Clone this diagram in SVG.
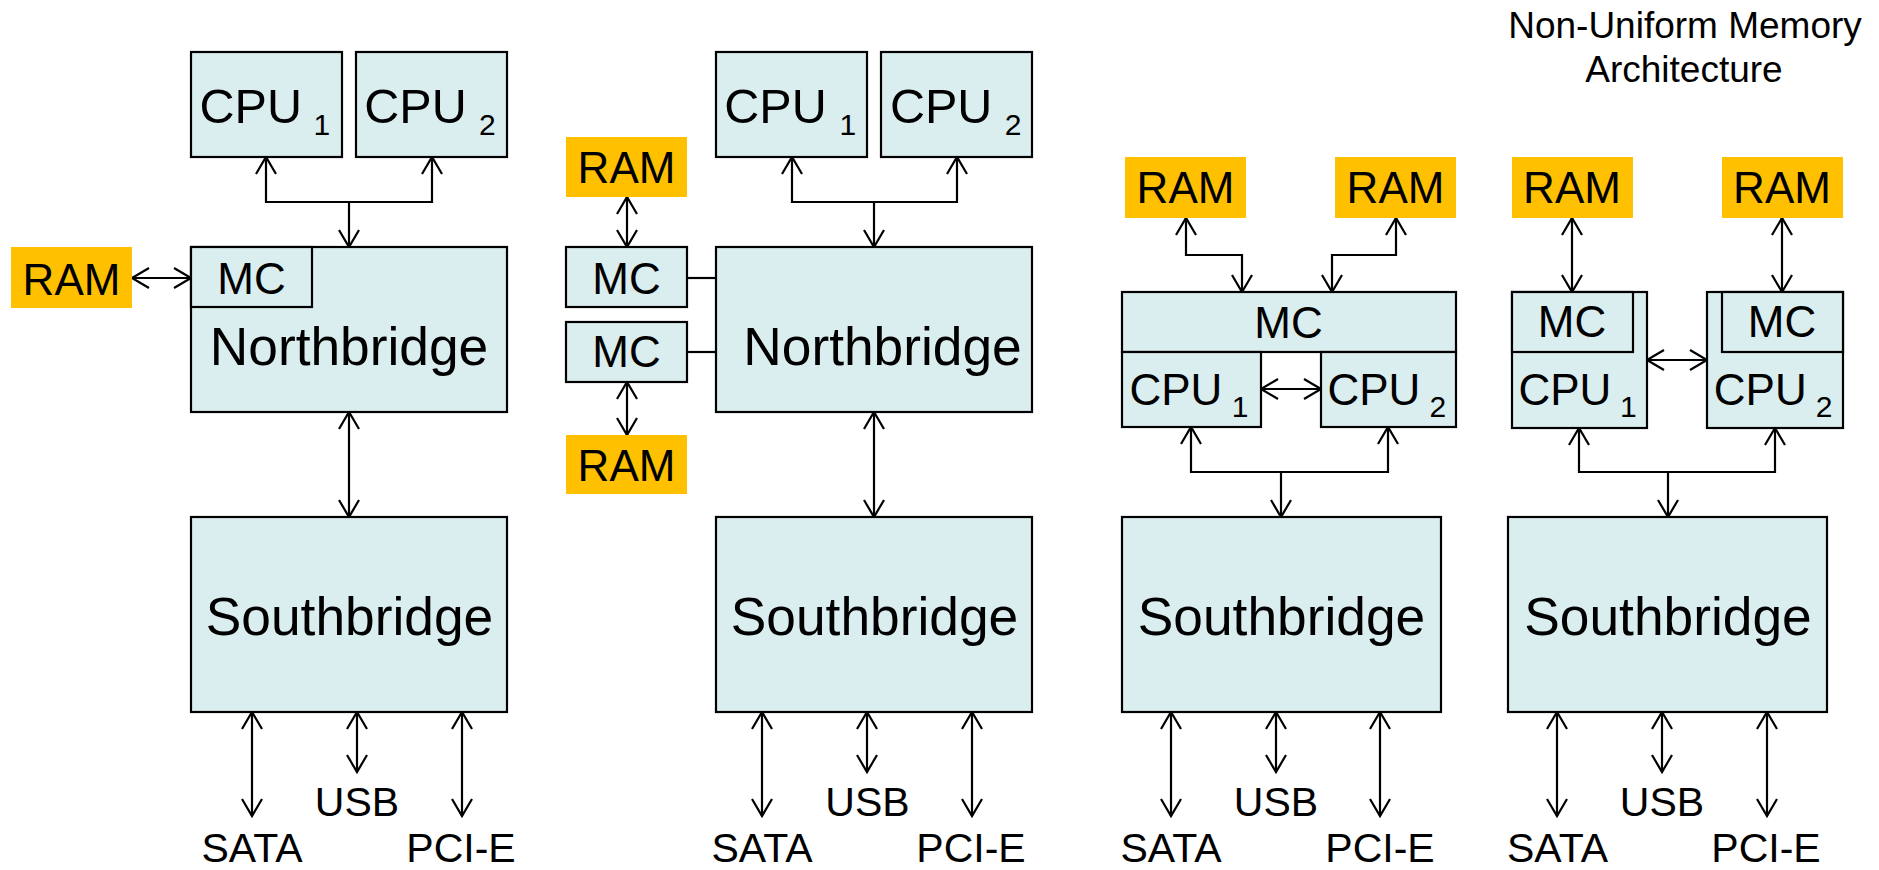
<svg xmlns="http://www.w3.org/2000/svg" width="1879" height="870" viewBox="0 0 1879 870">
<defs>
<marker id="arr" markerUnits="userSpaceOnUse" markerWidth="26" markerHeight="26" viewBox="-22 -13 26 26" refX="0" refY="0" orient="auto-start-reverse">
<path d="M-17,-10 L0,0 L-17,10" fill="none" stroke="#000" stroke-width="2.2"/>
</marker>
</defs>
<style>
.box{fill:#DAEDEF;stroke:#000;stroke-width:2.2}
.ram{fill:#FFC000;stroke:none}
text{font-family:"Liberation Sans",Arial,sans-serif;fill:#000}
.t44{font-size:44px;text-anchor:middle}
.cpu{font-size:48.5px}
.cpus{font-size:44px}
.sub{font-size:30px}
.big{font-size:53.3px;text-anchor:middle}
.lbl{font-size:41px;text-anchor:middle}
.title{font-size:37px;text-anchor:middle}
.c{fill:none;stroke:#000;stroke-width:2.2}
.bi{marker-start:url(#arr);marker-end:url(#arr)}
.uni{marker-end:url(#arr)}
</style>
<rect width="1879" height="870" fill="#fff"/>

<g id="title">
<text class="title" x="1685" y="38">Non-Uniform Memory</text>
<text class="title" x="1684" y="82">Architecture</text>
</g>

<g id="connectors">
<!-- panel 1 -->
<path class="c bi" d="M266,157 V202 H432 V157"/>
<path class="c uni" d="M349,202 V247"/>
<path class="c bi" d="M132,278 H191"/>
<path class="c bi" d="M349,412 V517"/>
<path class="c bi" d="M252,712 V816"/>
<path class="c bi" d="M357,712 V772"/>
<path class="c bi" d="M462,712 V816"/>
<!-- panel 2 -->
<path class="c bi" d="M792,157 V202 H957 V157"/>
<path class="c uni" d="M874,202 V247"/>
<path class="c bi" d="M627,197 V247"/>
<path class="c bi" d="M627,382 V435"/>
<path class="c" d="M687,278 H716"/>
<path class="c" d="M687,352 H716"/>
<path class="c bi" d="M874,412 V517"/>
<path class="c bi" d="M762,712 V816"/>
<path class="c bi" d="M867,712 V772"/>
<path class="c bi" d="M972,712 V816"/>
<!-- panel 3 -->
<path class="c bi" d="M1186,218 V255 H1242 V292"/>
<path class="c bi" d="M1396,218 V255 H1332 V292"/>
<path class="c bi" d="M1261,389 H1321"/>
<path class="c bi" d="M1191,427 V472 H1388 V427"/>
<path class="c uni" d="M1281,472 V517"/>
<path class="c bi" d="M1171,712 V816"/>
<path class="c bi" d="M1276,712 V772"/>
<path class="c bi" d="M1380,712 V816"/>
<!-- panel 4 -->
<path class="c bi" d="M1572,218 V292"/>
<path class="c bi" d="M1782,218 V292"/>
<path class="c bi" d="M1647,360 H1707"/>
<path class="c bi" d="M1579,428 V472 H1775 V428"/>
<path class="c uni" d="M1668,472 V517"/>
<path class="c bi" d="M1557,712 V816"/>
<path class="c bi" d="M1662,712 V772"/>
<path class="c bi" d="M1767,712 V816"/>
</g>

<!-- Panel 1 -->
<g id="p1-cpu1"><rect class="box" x="191" y="52" width="151" height="105"/><text class="cpu" x="199.6" y="123">CPU</text><text class="sub" x="313.4" y="135">1</text></g>
<g id="p1-cpu2"><rect class="box" x="356" y="52" width="151" height="105"/><text class="cpu" x="364.3" y="123">CPU</text><text class="sub" x="479" y="135">2</text></g>
<g id="p1-nb"><rect class="box" x="191" y="247" width="316" height="165"/><text class="big" x="349" y="365">Northbridge</text></g>
<g id="p1-mc"><rect class="box" x="191" y="247" width="121" height="60"/><text class="t44" x="251.5" y="294">MC</text></g>
<g id="p1-ram"><rect class="ram" x="11" y="247" width="121" height="61"/><text class="t44" x="71.5" y="295">RAM</text></g>
<g id="p1-sb"><rect class="box" x="191" y="517" width="316" height="195"/><text class="big" x="349.5" y="635">Southbridge</text></g>
<g id="p1-labels"><text class="lbl" x="252" y="862">SATA</text><text class="lbl" x="357" y="816">USB</text><text class="lbl" x="461" y="862">PCI-E</text></g>

<!-- Panel 2 -->
<g id="p2-cpu1"><rect class="box" x="716" y="52" width="151" height="105"/><text class="cpu" x="724.3" y="123">CPU</text><text class="sub" x="839.5" y="135">1</text></g>
<g id="p2-cpu2"><rect class="box" x="881" y="52" width="151" height="105"/><text class="cpu" x="889.9" y="123">CPU</text><text class="sub" x="1004.8" y="135">2</text></g>
<g id="p2-nb"><rect class="box" x="716" y="247" width="316" height="165"/><text class="big" x="882.5" y="365">Northbridge</text></g>
<g id="p2-mc1"><rect class="box" x="566" y="247" width="121" height="60"/><text class="t44" x="626.5" y="294">MC</text></g>
<g id="p2-mc2"><rect class="box" x="566" y="322" width="121" height="60"/><text class="t44" x="626.5" y="367">MC</text></g>
<g id="p2-ram1"><rect class="ram" x="566" y="137" width="121" height="60"/><text class="t44" x="626.5" y="183">RAM</text></g>
<g id="p2-ram2"><rect class="ram" x="566" y="435" width="121" height="59"/><text class="t44" x="626.5" y="481">RAM</text></g>
<g id="p2-sb"><rect class="box" x="716" y="517" width="316" height="195"/><text class="big" x="874.5" y="635">Southbridge</text></g>
<g id="p2-labels"><text class="lbl" x="762" y="862">SATA</text><text class="lbl" x="867.5" y="816">USB</text><text class="lbl" x="971" y="862">PCI-E</text></g>

<!-- Panel 3 -->
<g id="p3-ram1"><rect class="ram" x="1125" y="157" width="121" height="61"/><text class="t44" x="1185.5" y="203">RAM</text></g>
<g id="p3-ram2"><rect class="ram" x="1335" y="157" width="121" height="61"/><text class="t44" x="1395.5" y="203">RAM</text></g>
<g id="p3-mc"><rect class="box" x="1122" y="292" width="334" height="60"/><text class="t44" x="1288.5" y="338">MC</text></g>
<g id="p3-cpu1"><rect class="box" x="1122" y="352" width="139" height="75"/><text class="cpus" x="1129.5" y="405">CPU</text><text class="sub" x="1231.7" y="417">1</text></g>
<g id="p3-cpu2"><rect class="box" x="1321" y="352" width="135" height="75"/><text class="cpus" x="1327.5" y="405">CPU</text><text class="sub" x="1429.5" y="417">2</text></g>
<g id="p3-sb"><rect class="box" x="1122" y="517" width="319" height="195"/><text class="big" x="1281.5" y="635">Southbridge</text></g>
<g id="p3-labels"><text class="lbl" x="1171" y="862">SATA</text><text class="lbl" x="1276" y="816">USB</text><text class="lbl" x="1380" y="862">PCI-E</text></g>

<!-- Panel 4 -->
<g id="p4-ram1"><rect class="ram" x="1512" y="157" width="121" height="61"/><text class="t44" x="1572" y="203">RAM</text></g>
<g id="p4-ram2"><rect class="ram" x="1722" y="157" width="121" height="61"/><text class="t44" x="1782" y="203">RAM</text></g>
<g id="p4-cpu1"><rect class="box" x="1512" y="292" width="135" height="136"/><text class="cpus" x="1518.5" y="405">CPU</text><text class="sub" x="1620" y="417">1</text></g>
<g id="p4-mc1"><rect class="box" x="1512" y="292" width="121" height="60"/><text class="t44" x="1572" y="337">MC</text></g>
<g id="p4-cpu2"><rect class="box" x="1707" y="292" width="136" height="136"/><text class="cpus" x="1713.8" y="405">CPU</text><text class="sub" x="1815.8" y="417">2</text></g>
<g id="p4-mc2"><rect class="box" x="1722" y="292" width="121" height="60"/><text class="t44" x="1782" y="337">MC</text></g>
<g id="p4-sb"><rect class="box" x="1508" y="517" width="319" height="195"/><text class="big" x="1668" y="635">Southbridge</text></g>
<g id="p4-labels"><text class="lbl" x="1557.5" y="862">SATA</text><text class="lbl" x="1662" y="816">USB</text><text class="lbl" x="1766" y="862">PCI-E</text></g>
</svg>
